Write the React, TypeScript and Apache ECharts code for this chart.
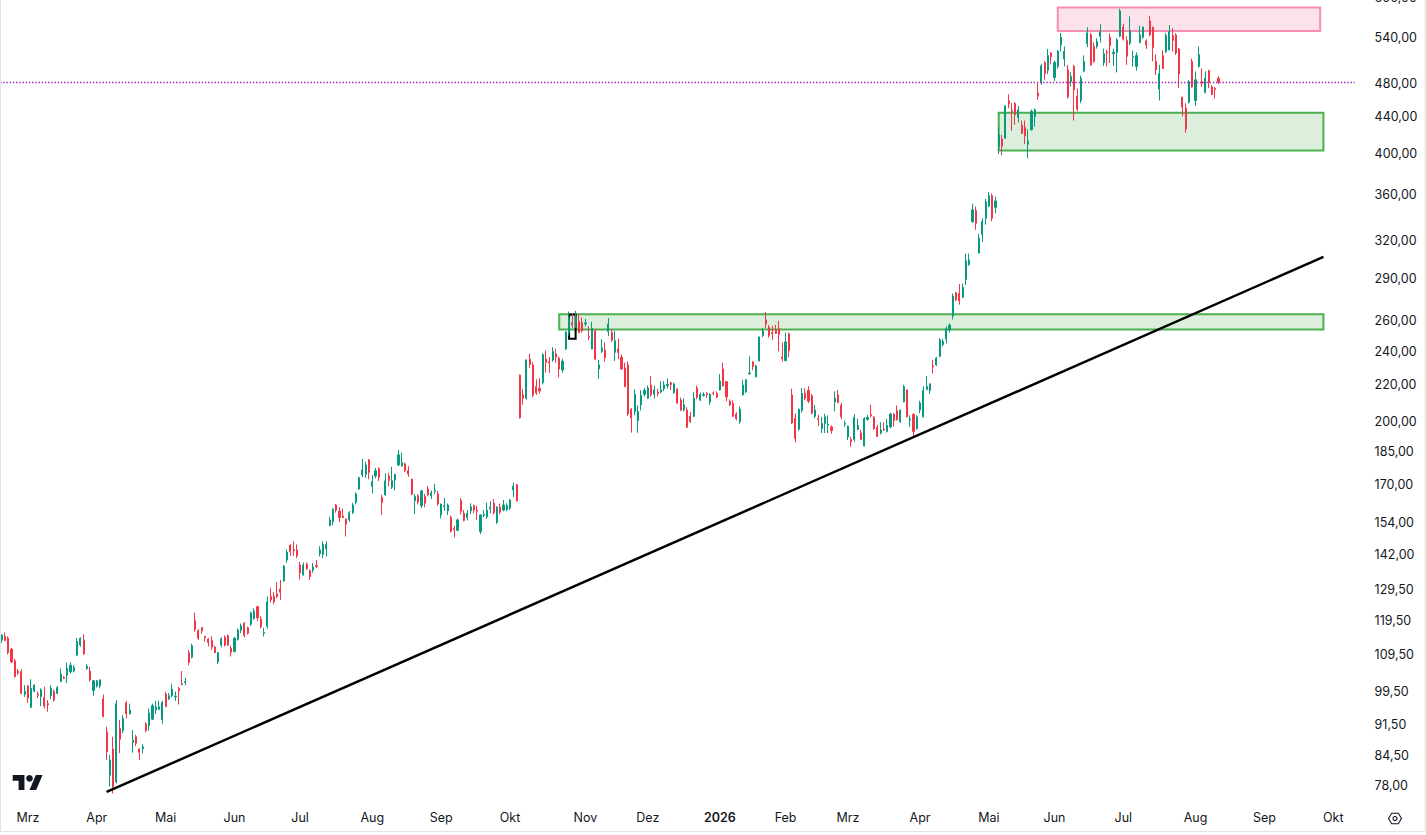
import React, { useEffect, useRef } from "react";
import * as echarts from "echarts";

// Trading calendar (categories)
const FIRST_DAY = "2025-02-19";
const LAST_DAY = "2026-10-09";
const HOLIDAYS = [
  "2025-04-18", "2025-05-26", "2025-06-19", "2025-07-04", "2025-09-01",
  "2025-11-27", "2025-12-25", "2026-01-01", "2026-01-19", "2026-02-16",
  "2026-04-03", "2026-05-25", "2026-06-19", "2026-07-03", "2026-09-07",
];
const MONTH_NAMES = ["Jan", "Feb", "Mrz", "Apr", "Mai", "Jun", "Jul", "Aug", "Sep", "Okt", "Nov", "Dez"];
const PRICE_TICKS = [78, 84.5, 91.5, 99.5, 109.5, 119.5, 129.5, 142, 154, 170, 185, 200, 220, 240, 260, 290, 320, 360, 400, 440, 480, 540, 600];

// Daily candles: [open, high, low, close]
const FEB_2025 = [
  [113.8, 115.5, 112.9, 115.2], [114.8, 116.0, 113.4, 113.6], [114.3, 114.8, 109.6, 110.1], [111.1, 111.5, 107.2, 107.5],
  [107.8, 108.4, 103.2, 103.5], [104.9, 105.6, 103.9, 104.5], [104.8, 105.5, 98.9, 99.1], [98.9, 101.2, 98.2, 99.6],
];
const MAR_2025 = [
  [101.0, 101.3, 96.7, 97.9], [95.6, 102.8, 95.4, 100.4], [99.7, 101.5, 99.4, 101.2], [98.9, 99.6, 97.9, 98.6],
  [98.3, 100.4, 95.9, 100.0], [98.1, 100.8, 95.3, 95.9], [96.5, 97.4, 94.5, 96.2], [98.5, 101.2, 97.6, 100.4],
  [99.6, 100.1, 97.0, 97.4], [99.1, 101.0, 98.9, 100.6], [102.2, 105.7, 102.0, 104.1], [103.3, 103.6, 102.8, 103.0],
  [103.9, 107.3, 101.8, 105.7], [104.8, 107.5, 104.3, 106.6], [105.0, 106.6, 104.6, 106.0], [109.4, 114.3, 109.2, 113.3],
  [112.3, 114.6, 111.8, 114.3], [113.8, 115.5, 109.4, 109.8], [105.7, 106.8, 105.3, 106.3], [105.0, 106.1, 102.2, 102.6],
  [99.8, 102.6, 98.5, 102.4],
];
const APR_2025 = [
  [101.0, 102.6, 100.6, 102.4], [101.0, 102.8, 100.4, 102.6], [97.7, 98.8, 93.2, 93.3], [89.7, 90.9, 83.4, 85.2],
  [80.2, 84.5, 77.9, 83.4], [85.8, 88.6, 76.5, 77.9], [78.8, 97.4, 78.5, 96.5], [90.5, 92.5, 84.9, 88.0],
  [90.0, 93.7, 89.4, 92.9], [96.7, 97.2, 92.9, 94.0], [94.0, 96.5, 93.8, 94.9], [87.3, 90.1, 85.0, 87.8],
  [88.6, 89.0, 86.5, 87.1], [85.8, 86.0, 83.4, 85.1], [85.9, 86.9, 84.9, 86.3], [91.6, 92.0, 89.6, 90.0],
  [91.2, 95.3, 90.0, 94.2], [92.7, 96.5, 92.5, 96.0], [94.9, 97.2, 94.0, 95.7], [95.1, 97.2, 94.9, 95.7],
  [92.6, 97.2, 91.6, 96.8],
];
const MAY_2025 = [
  [98.9, 99.5, 95.6, 95.8], [97.7, 99.2, 97.4, 98.5], [98.5, 101.6, 98.1, 100.2], [98.2, 99.6, 97.2, 98.4],
  [100.4, 100.8, 96.3, 99.8], [101.6, 105.0, 101.2, 101.4], [101.9, 103.2, 101.2, 102.2], [110.1, 110.9, 106.6, 107.4],
  [108.8, 112.7, 108.5, 112.1], [119.6, 122.1, 116.2, 117.0], [116.5, 117.0, 113.8, 114.3], [117.5, 117.6, 115.6, 116.5],
  [114.8, 115.0, 113.3, 114.4], [114.0, 114.3, 111.9, 113.1], [113.6, 114.9, 110.9, 111.7], [111.7, 112.1, 110.0, 110.1],
  [107.5, 110.3, 106.9, 110.1], [112.3, 114.6, 111.6, 114.1], [114.6, 115.1, 111.9, 112.3], [115.0, 115.4, 112.0, 112.3],
  [111.4, 112.2, 109.0, 110.2],
];
const JUN_2025 = [
  [110.4, 114.6, 110.2, 114.3], [114.0, 117.2, 113.6, 116.7], [116.7, 118.7, 115.8, 118.0], [118.8, 119.2, 114.5, 115.1],
  [117.4, 117.8, 115.4, 115.8], [118.5, 122.4, 118.0, 122.1], [120.3, 123.5, 119.8, 122.6], [124.0, 124.3, 119.5, 120.5],
  [120.1, 121.0, 117.2, 117.7], [115.8, 117.4, 114.8, 116.0], [117.9, 127.3, 117.2, 125.6], [127.3, 130.1, 125.4, 126.2],
  [127.3, 128.8, 124.8, 125.6], [128.2, 132.1, 126.8, 127.3], [129.8, 132.9, 126.2, 128.7], [132.5, 138.1, 132.3, 137.7],
  [139.9, 143.8, 138.9, 142.8], [145.4, 145.7, 141.5, 143.0], [143.8, 146.9, 141.4, 143.3], [143.6, 145.7, 140.6, 141.4],
];
const JUL_2025 = [
  [138.1, 139.2, 133.0, 135.3], [134.6, 139.0, 134.4, 138.1], [138.4, 139.0, 136.4, 136.9], [136.1, 136.5, 132.9, 134.0],
  [136.3, 138.8, 135.4, 137.4], [137.9, 139.9, 137.1, 137.6], [142.2, 145.0, 141.2, 143.6], [141.9, 146.9, 140.6, 145.7],
  [144.0, 146.9, 141.2, 145.7], [153.0, 156.5, 152.6, 155.2], [154.6, 160.0, 153.0, 159.5], [161.3, 161.7, 158.1, 159.2],
  [158.8, 160.4, 154.4, 156.1], [156.8, 159.8, 155.9, 156.2], [155.6, 155.8, 148.7, 153.5], [155.2, 158.8, 154.4, 158.1],
  [158.1, 162.2, 157.6, 161.3], [162.5, 166.7, 161.6, 166.0], [168.1, 173.5, 167.9, 173.1], [174.3, 181.7, 173.3, 176.6],
  [174.6, 180.4, 173.0, 178.9], [181.2, 181.7, 172.4, 175.5],
];
const AUG_2025 = [
  [169.3, 174.2, 166.3, 171.4], [173.9, 177.5, 172.8, 176.2], [177.1, 177.8, 171.6, 173.3], [164.5, 165.6, 157.2, 162.3],
  [165.6, 175.0, 165.2, 171.7], [173.9, 175.3, 169.3, 171.8], [168.9, 178.0, 168.1, 171.8], [172.1, 174.8, 167.5, 174.6],
  [178.9, 186.0, 178.4, 183.6], [178.5, 184.7, 178.0, 180.0], [179.4, 180.0, 175.7, 176.2], [176.2, 178.3, 173.5, 174.8],
  [172.5, 172.6, 165.4, 165.9], [163.1, 166.0, 157.6, 164.9], [165.2, 165.9, 161.5, 162.5], [161.0, 167.7, 160.0, 167.3],
  [164.9, 166.0, 160.4, 162.0], [168.1, 169.4, 165.0, 165.6], [165.2, 167.5, 163.8, 166.5], [167.2, 170.3, 165.9, 167.6],
  [166.0, 167.3, 161.0, 161.7],
];
const SEP_2025 = [
  [157.2, 161.9, 155.8, 161.7], [160.6, 164.2, 158.9, 161.1], [158.9, 161.9, 157.2, 161.3], [156.2, 157.0, 150.3, 150.6],
  [151.8, 152.8, 148.3, 151.3], [151.1, 155.8, 150.7, 155.2], [163.1, 164.2, 157.4, 158.7], [157.9, 159.2, 154.6, 155.0],
  [156.2, 159.2, 155.0, 157.9], [158.9, 162.0, 157.6, 160.6], [161.0, 161.5, 157.9, 159.2], [159.2, 160.9, 155.2, 158.7],
  [150.6, 157.3, 149.6, 157.2], [157.0, 159.2, 156.3, 157.4], [156.5, 162.3, 155.6, 159.2], [159.8, 162.8, 157.9, 160.4],
  [162.0, 163.8, 157.4, 158.1], [154.2, 160.8, 153.6, 160.4], [160.4, 161.9, 157.6, 158.3], [159.2, 163.4, 158.7, 161.3],
  [159.5, 162.0, 158.7, 161.0],
];
const OCT_2025 = [
  [160.0, 163.8, 159.2, 163.4], [167.7, 170.8, 164.7, 169.3], [170.0, 170.2, 162.7, 163.1], [225.7, 226.0, 201.7, 202.1],
  [214.4, 217.6, 209.0, 212.6], [212.6, 235.0, 211.8, 234.7], [235.1, 238.5, 230.0, 231.9], [231.7, 233.4, 213.1, 214.2],
  [219.1, 223.2, 214.5, 215.5], [218.1, 223.9, 215.0, 216.6], [221.3, 238.8, 220.3, 237.9], [235.3, 240.5, 227.1, 233.2],
  [233.5, 236.5, 227.1, 232.8], [234.7, 242.5, 233.6, 240.0], [238.5, 241.7, 233.1, 236.4], [235.8, 236.8, 224.3, 229.3],
  [228.7, 235.4, 227.0, 234.0], [241.5, 252.9, 240.7, 252.2], [252.0, 266.0, 250.0, 262.0], [258.4, 265.0, 255.0, 257.1],
  [258.0, 266.5, 255.0, 261.5], [259.3, 264.0, 251.5, 252.0], [258.4, 262.0, 252.0, 253.0],
];
const NOV_2025 = [
  [257.6, 261.0, 256.0, 258.3], [249.5, 256.0, 247.0, 248.9], [241.5, 259.0, 241.3, 254.8], [253.0, 254.0, 234.8, 235.2],
  [229.4, 234.7, 223.5, 231.7], [239.9, 247.7, 239.0, 242.0], [240.9, 245.6, 233.7, 236.1], [252.6, 261.6, 249.6, 257.6],
  [252.0, 254.0, 245.8, 247.0], [239.4, 253.0, 234.1, 246.7], [241.5, 248.0, 235.2, 239.3], [236.4, 237.9, 228.9, 229.3],
  [229.9, 233.0, 218.7, 219.1], [231.7, 233.8, 203.0, 204.1], [206.6, 207.2, 194.5, 202.1], [205.4, 217.5, 203.5, 214.8],
  [200.6, 208.7, 194.4, 205.4], [209.0, 217.0, 206.0, 214.2], [214.8, 218.4, 213.5, 216.9],
];
const DEC_2025 = [
  [212.6, 219.8, 212.2, 218.3], [220.0, 225.1, 213.5, 214.5], [214.8, 219.6, 212.5, 217.2], [216.1, 217.8, 213.6, 215.2],
  [216.0, 222.2, 215.3, 217.2], [217.9, 222.2, 216.5, 220.0], [219.6, 223.8, 218.0, 220.3], [221.2, 221.9, 217.2, 220.3],
  [215.7, 221.3, 215.0, 220.6], [217.6, 218.3, 209.5, 210.0], [211.6, 213.0, 205.6, 206.2], [206.4, 212.5, 205.5, 209.0],
  [206.2, 207.7, 196.8, 197.2], [202.9, 205.2, 199.5, 200.1], [202.9, 215.9, 202.4, 212.6], [218.3, 219.6, 212.0, 213.1],
  [211.6, 215.8, 211.0, 214.8], [214.2, 215.9, 213.5, 214.6], [215.1, 216.0, 212.8, 214.6], [210.6, 215.3, 209.0, 214.8],
  [215.5, 216.4, 214.2, 215.1], [215.3, 216.4, 212.6, 213.3],
];
const JAN_2026 = [
  [217.2, 226.3, 216.8, 222.3], [229.3, 233.1, 219.0, 219.5], [221.9, 222.0, 211.0, 213.3], [211.0, 212.0, 208.3, 209.0],
  [209.7, 211.6, 202.5, 202.9], [204.1, 205.0, 200.8, 201.6], [200.1, 208.0, 199.0, 206.7], [214.5, 222.9, 214.0, 220.0],
  [216.3, 223.5, 215.5, 222.9], [226.5, 236.9, 226.0, 226.9], [233.6, 233.8, 228.6, 230.8], [224.8, 231.8, 224.3, 231.2],
  [234.1, 249.3, 233.8, 249.1], [250.0, 254.8, 249.0, 253.0], [260.3, 265.7, 255.0, 257.6], [255.3, 257.0, 248.7, 250.0],
  [252.0, 256.3, 247.2, 251.2], [253.8, 257.0, 251.0, 251.4], [254.4, 259.7, 240.0, 250.6], [236.5, 245.6, 233.7, 235.5],
];
const FEB_2026 = [
  [234.3, 252.0, 234.0, 245.9], [251.2, 252.0, 236.4, 240.5], [214.4, 217.9, 198.9, 199.4], [201.7, 204.4, 189.6, 191.6],
  [196.2, 207.0, 195.5, 206.6], [205.9, 218.2, 205.0, 215.3], [215.3, 218.2, 211.5, 212.6], [217.0, 219.3, 210.0, 211.0],
  [214.0, 215.0, 204.0, 204.5], [202.9, 208.9, 202.0, 206.2], [201.8, 203.6, 197.8, 201.2], [196.6, 202.6, 194.3, 199.1],
  [199.1, 204.2, 194.3, 202.6], [198.3, 203.4, 194.3, 198.7], [197.4, 198.2, 193.9, 195.5], [210.6, 216.5, 205.5, 212.6],
  [214.4, 217.3, 209.8, 210.3], [208.7, 210.0, 201.4, 202.6], [198.8, 200.7, 197.4, 199.3],
];
const MAR_2026 = [
  [192.3, 198.0, 190.8, 197.8], [191.1, 192.5, 187.6, 189.9], [191.1, 204.0, 190.0, 202.3], [196.1, 201.6, 195.7, 198.2],
  [194.3, 196.0, 190.8, 191.1], [187.9, 202.5, 187.7, 201.7], [201.3, 203.6, 200.6, 202.3], [203.8, 209.0, 202.3, 203.3],
  [202.3, 203.0, 195.9, 196.6], [197.1, 198.5, 192.3, 192.6], [194.3, 199.8, 193.6, 195.8], [196.3, 199.8, 195.3, 195.9],
  [195.1, 201.6, 194.5, 198.2], [197.4, 204.8, 196.8, 204.1], [203.9, 204.6, 197.5, 200.6], [205.9, 208.7, 200.7, 201.1],
  [200.1, 206.4, 199.5, 206.2], [210.6, 220.1, 210.4, 219.1], [217.2, 217.5, 202.3, 202.6], [201.0, 203.4, 197.4, 201.5],
  [203.9, 204.5, 192.3, 195.1], [196.6, 203.5, 196.0, 202.6],
];
const APR_2026 = [
  [206.2, 211.2, 204.5, 210.0], [202.6, 219.3, 202.3, 216.9], [217.6, 225.1, 217.0, 219.1], [216.9, 221.0, 215.0, 220.6],
  [231.2, 234.7, 226.7, 230.5], [231.7, 236.5, 231.0, 235.8], [236.9, 248.3, 236.4, 247.2], [244.2, 248.0, 243.2, 246.2],
  [247.7, 256.0, 245.0, 254.4], [253.8, 258.0, 252.0, 256.8], [262.9, 278.7, 260.7, 276.9], [279.1, 279.8, 273.5, 274.1],
  [278.7, 285.6, 270.8, 273.6], [276.1, 286.0, 275.5, 283.3], [289.0, 309.0, 285.0, 303.3], [300.3, 309.0, 299.5, 304.0],
  [335.6, 351.5, 334.7, 346.0], [345.4, 349.0, 328.6, 334.0], [309.5, 325.0, 309.0, 321.6], [324.5, 338.6, 318.5, 335.9],
  [338.6, 356.0, 333.0, 353.3],
];
const MAY_2026 = [
  [349.4, 362.1, 348.5, 359.0], [359.0, 361.0, 336.0, 338.6], [348.2, 358.0, 343.0, 354.1], [408.0, 429.0, 399.6, 420.1],
  [415.6, 420.1, 398.5, 408.0], [416.5, 453.0, 416.0, 452.8], [458.7, 466.6, 450.1, 455.1], [447.5, 455.9, 424.5, 446.5],
  [455.5, 457.0, 431.0, 442.4], [439.3, 452.8, 433.7, 448.2], [430.8, 436.0, 421.0, 421.8], [428.3, 436.0, 410.1, 419.1],
  [410.1, 426.1, 395.4, 413.3], [425.6, 448.5, 425.0, 446.4], [440.3, 449.8, 429.0, 448.2], [468.0, 480.0, 459.9, 464.1],
  [482.0, 504.8, 478.0, 502.2], [506.6, 508.8, 484.3, 492.7], [496.4, 524.6, 491.7, 515.6], [519.2, 520.0, 504.0, 513.9],
];
const JUN_2026 = [
  [487.2, 509.0, 483.0, 506.6], [501.3, 523.4, 498.8, 521.5], [530.2, 546.4, 521.2, 540.8], [511.3, 528.0, 501.3, 521.2],
  [497.0, 503.4, 461.5, 463.4], [482.0, 494.0, 476.0, 488.4], [501.3, 503.4, 436.0, 472.0], [464.5, 473.5, 446.4, 449.0],
  [459.1, 489.4, 456.0, 486.2], [495.6, 516.0, 494.0, 508.0], [531.6, 555.0, 527.1, 546.4], [544.0, 546.9, 502.5, 503.4],
  [528.0, 533.5, 505.8, 508.0], [528.0, 539.2, 525.0, 534.8], [542.0, 559.4, 533.5, 548.6], [506.0, 525.0, 502.0, 518.2],
  [520.5, 523.4, 501.3, 519.5], [540.8, 546.4, 506.0, 529.1], [518.2, 525.0, 502.0, 520.0], [520.0, 539.4, 493.7, 537.1],
  [542.0, 582.0, 541.0, 578.9],
];
const JUL_2026 = [
  [555.0, 560.0, 536.0, 538.1], [536.2, 542.0, 503.4, 514.8], [532.5, 570.6, 530.0, 549.6], [513.5, 522.4, 501.3, 514.2],
  [501.3, 520.0, 496.0, 515.6], [533.6, 557.0, 532.0, 544.0], [540.8, 556.0, 538.5, 555.0], [535.6, 537.8, 524.6, 530.2],
  [564.0, 571.6, 542.0, 544.0], [554.4, 556.0, 508.0, 526.6], [508.0, 517.0, 490.4, 497.0], [472.7, 503.4, 459.1, 492.3],
  [515.6, 523.0, 498.0, 498.8], [521.2, 546.4, 519.0, 543.0], [523.4, 558.0, 522.5, 548.6], [543.0, 553.6, 521.2, 536.2],
  [544.0, 546.4, 516.5, 519.2], [524.6, 525.9, 473.9, 491.7], [463.2, 463.5, 440.6, 451.3], [450.1, 455.9, 422.4, 426.5],
  [456.9, 484.0, 455.5, 482.0], [508.0, 511.5, 474.5, 475.4],
];
const AUG_2026 = [
  [459.1, 494.8, 452.8, 484.3], [501.3, 528.0, 500.0, 517.0], [482.0, 498.8, 475.4, 480.0], [468.9, 495.0, 467.5, 486.2],
  [496.1, 497.0, 474.0, 481.1], [475.4, 478.0, 465.5, 466.3], [473.5, 475.4, 461.5, 472.5], [486.2, 489.0, 479.0, 481.5],
];

// Drawings (category index, price)
const ZONES = [
  { from: 322, to: 402, top: 584.0, bottom: 549.4, fill: "rgba(233,30,99,0.13)", border: "#f48fb1" },
  { from: 304, to: 403, top: 444.8, bottom: 403.3, fill: "rgba(76,175,80,0.2)", border: "#4caf50" },
  { from: 170, to: 403, top: 264.2, bottom: 254.0, fill: "rgba(76,175,80,0.2)", border: "#4caf50" },
  { from: 173, to: 175, top: 264.0, bottom: 248.0, fill: "rgba(0,0,0,0)", border: "#000000" },
];
const TREND_FROM = [32, 76.8];
const TREND_TO = [403, 306.4];

function tradingDays(start: string, end: string, holidays: string[]) {
  const out: string[] = [];
  const hs = new Set(holidays);
  const d = new Date(start + "T00:00:00Z");
  const e = new Date(end + "T00:00:00Z");
  while (d.getTime() <= e.getTime()) {
    const wd = d.getUTCDay();
    const s = d.toISOString().slice(0, 10);
    if (wd !== 0 && wd !== 6 && !hs.has(s)) out.push(s);
    d.setUTCDate(d.getUTCDate() + 1);
  }
  return out;
}

export default function App() {
  const ref = useRef<HTMLDivElement>(null);

  useEffect(() => {
    const el = ref.current;
    if (!el) return;
    const chart = echarts.init(el, null, { renderer: "svg" });

    const dates = tradingDays(FIRST_DAY, LAST_DAY, HOLIDAYS);
    const monthStart = new Set<number>();
    for (let i = 1; i < dates.length; i++) {
      if (dates[i].slice(0, 7) !== dates[i - 1].slice(0, 7)) monthStart.add(i);
    }
    const rows = [
      ...FEB_2025, ...MAR_2025, ...APR_2025, ...MAY_2025, ...JUN_2025, ...JUL_2025, ...AUG_2025,
      ...SEP_2025, ...OCT_2025, ...NOV_2025, ...DEC_2025, ...JAN_2026, ...FEB_2026, ...MAR_2026,
      ...APR_2026, ...MAY_2026, ...JUN_2026, ...JUL_2026, ...AUG_2026,
    ];
    const candles = rows.map(([o, h, l, c]) => [o, c, l, h]);
    const lastClose = rows[rows.length - 1][3];

    const font = "Inter, Roboto, sans-serif";
    const ink = "#131722";

    const option: any = {
      animation: false,
      backgroundColor: "#ffffff",
      grid: { left: 0, top: -3, width: 1354.6, height: 809, containLabel: false, outerBoundsMode: "none" },
      xAxis: {
        type: "category",
        data: dates,
        boundaryGap: true,
        axisLine: { show: false },
        axisTick: { show: false },
        splitLine: { show: false },
        axisLabel: {
          interval: (i: number) => monthStart.has(i),
          formatter: (v: string) => {
            const m = +v.slice(5, 7);
            return m === 1 ? `{y|${v.slice(0, 4)}}` : MONTH_NAMES[m - 1];
          },
          color: ink,
          fontSize: 12.5,
          fontFamily: font,
          margin: 5,
          rich: { y: { fontWeight: 600, fontSize: 12.5, fontFamily: font, color: ink } },
        },
      },
      yAxis: {
        type: "log",
        logBase: 10,
        position: "right",
        min: 74.06,
        max: 600,
        axisLine: { show: false },
        axisTick: { show: false },
        splitLine: { show: false },
        axisLabel: {
          customValues: PRICE_TICKS,
          formatter: (v: number) => Number(v).toFixed(2).replace(".", ","),
          color: ink,
          fontSize: 12.5,
          fontFamily: font,
          margin: 20,
        },
      },
      series: [
        {
          type: "candlestick",
          data: candles,
          barWidth: 1.6,
          itemStyle: {
            color: "#089981",
            color0: "#f23645",
            borderColor: "#089981",
            borderColor0: "#f23645",
            borderWidth: 1,
          },
          markArea: {
            silent: true,
            label: { show: false },
            data: ZONES.map((z) => [
              { coord: [z.from, z.top], itemStyle: { color: z.fill, borderColor: z.border, borderWidth: 2 } },
              { coord: [z.to, z.bottom] },
            ]),
          },
          markLine: {
            silent: true,
            symbol: ["none", "none"],
            label: { show: false },
            data: [
              { yAxis: lastClose, lineStyle: { color: "#9c27b0", width: 1.4, type: [1.4, 1.8] } },
              [
                { coord: TREND_FROM, lineStyle: { color: "#000000", width: 2.5, type: "solid" } },
                { coord: TREND_TO },
              ],
            ],
          },
        },
      ],
      graphic: [
        {
          type: "rect",
          silent: true,
          z: 100,
          shape: { x: 0.5, y: -1, width: 1424.5, height: 832.5 },
          style: { fill: "none", stroke: "#e0e3eb", lineWidth: 1 },
        },
        {
          type: "group",
          x: 12.7,
          y: 771.6,
          scaleX: 0.84,
          scaleY: 0.84,
          silent: true,
          children: [
            { type: "polygon", shape: { points: [[0, 4], [14, 4], [14, 22], [7, 22], [7, 11], [0, 11]] }, style: { fill: ink } },
            { type: "polygon", shape: { points: [[20, 22], [27.5, 4], [35.5, 4], [28, 22]] }, style: { fill: ink } },
            { type: "circle", shape: { cx: 20, cy: 8, r: 4 }, style: { fill: ink } },
          ],
        },
        {
          type: "group",
          x: 1395,
          y: 818.5,
          silent: true,
          children: [
            {
              type: "polygon",
              shape: { points: [[-6.5, 0], [-3.3, -5.3], [3.3, -5.3], [6.5, 0], [3.3, 5.3], [-3.3, 5.3]] },
              style: { fill: "none", stroke: ink, lineWidth: 1.1 },
            },
            { type: "circle", shape: { cx: 0, cy: 0, r: 2 }, style: { fill: "none", stroke: ink, lineWidth: 1.1 } },
          ],
        },
      ],
    };

    chart.setOption(option);
    return () => chart.dispose();
  }, []);

  return (
    <div
      ref={ref}
      style={{ position: "fixed", left: 0, top: 0, width: 1426, height: 835, background: "#ffffff" }}
    />
  );
}
